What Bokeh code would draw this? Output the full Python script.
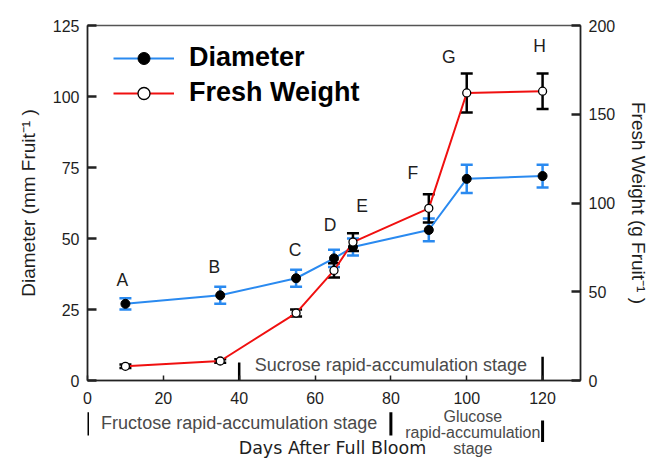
from bokeh.plotting import figure
from bokeh.layouts import column
from bokeh.models import (Range1d, LinearAxis, FixedTicker, Whisker, TeeHead,
                          ColumnDataSource, Label, Legend, LegendItem)
from bokeh.core.properties import value
from bokeh.embed import file_html
from bokeh.resources import INLINE

# ---- data ----
days = [10, 35, 55, 65, 70, 90, 100, 120]
diameter = [27, 30, 36, 43, 47, 53, 71, 72]
diameter_err = [2, 3, 3, 3, 3, 4, 5, 4]
fresh_weight = [8, 11, 38, 62, 78, 97, 162, 163]
fresh_weight_err = [1, 1, 2, 4, 5, 8, 11, 10]
point_labels = ["A", "B", "C", "D", "E", "F", "G", "H"]
x_ticks = [0, 20, 40, 60, 80, 100, 120]
left_ticks = [0, 25, 50, 75, 100, 125]
right_ticks = [0, 50, 100, 150, 200]
sucrose_stage = [40, 120]
fructose_stage = [0, 80]
glucose_stage = [80, 120]

# ---- style ----
FONT = "Liberation Sans"
BLUE = "#2a8af0"
RED = "#f01010"
TXT = "#1e1e1e"
GRAY = "#4a4a4a"
LEFT_MAX, RIGHT_MAX = 125, 200
ratio = LEFT_MAX / RIGHT_MAX
px_per_x = 493 / 130.0
px_per_y = 356 / 125.0
label_dx_px = [-3, -6, -1, -4, 9, -16, -18, -3]
label_gap_px = [18, 20, 20, 25, 27, 21, 16, 28]

W = 662
H1 = 406
p = figure(width=W, height=H1, x_range=Range1d(0, 130), y_range=Range1d(0, LEFT_MAX),
           output_backend="svg", toolbar_location=None,
           min_border_left=87, min_border_right=82, min_border_top=25, min_border_bottom=25,
           y_axis_location=None)
p.extra_y_ranges = {"fw": Range1d(0, RIGHT_MAX)}
p.xgrid.visible = False
p.ygrid.visible = False
p.outline_line_color = "#555555"
p.outline_line_width = 1.5


def style_axis(ax):
    ax.axis_line_color = "#222222"
    ax.axis_line_width = 1.5
    ax.major_tick_line_color = "#222222"
    ax.major_tick_line_width = 2.5
    ax.minor_tick_line_color = None
    ax.major_label_text_font = FONT
    ax.major_label_text_font_size = "16px"
    ax.major_label_text_color = TXT
    ax.axis_label_text_font = FONT
    ax.axis_label_text_font_size = "19px"
    ax.axis_label_text_font_style = "normal"
    ax.axis_label_text_color = TXT


xa = p.xaxis[0]
style_axis(xa)
xa.ticker = FixedTicker(ticks=x_ticks)
xa.major_tick_in = 5
xa.major_tick_out = 0
xa.major_tick_line_width = 1.5
xa.major_label_standoff = 11

ly = LinearAxis(ticker=FixedTicker(ticks=left_ticks), axis_label="Diameter (mm Fruit⁻¹ )")
style_axis(ly)
ly.major_tick_in = 9
ly.major_tick_out = 0
ly.major_label_standoff = 8
ly.axis_label_standoff = 11
p.add_layout(ly, "left")

ry = LinearAxis(y_range_name="fw", ticker=FixedTicker(ticks=right_ticks),
                axis_label="Fresh Weight (g Fruit⁻¹ )")
style_axis(ry)
ry.major_tick_in = 9
ry.major_tick_out = 0
ry.major_label_standoff = 8
ry.axis_label_standoff = 10
p.add_layout(ry, "right")

src = ColumnDataSource(dict(
    x=days, d=diameter,
    d_lo=[v - e for v, e in zip(diameter, diameter_err)],
    d_hi=[v + e for v, e in zip(diameter, diameter_err)],
    w=fresh_weight,
    w_lo=[v - e for v, e in zip(fresh_weight, fresh_weight_err)],
    w_hi=[v + e for v, e in zip(fresh_weight, fresh_weight_err)],
))

# error bars
wd = Whisker(source=src, base="x", upper="d_hi", lower="d_lo", dimension="height",
             line_color=BLUE, line_width=2.5,
             upper_head=TeeHead(size=12, line_color=BLUE, line_width=2.5),
             lower_head=TeeHead(size=12, line_color=BLUE, line_width=2.5))
ww = Whisker(source=src, base="x", upper="w_hi", lower="w_lo", dimension="height",
             y_range_name="fw", line_color="black", line_width=2.5,
             upper_head=TeeHead(size=12, line_color="black", line_width=2.5),
             lower_head=TeeHead(size=12, line_color="black", line_width=2.5))
p.add_layout(wd)
p.add_layout(ww)

l1 = p.line("x", "d", source=src, line_color=BLUE, line_width=2)
l2 = p.line("x", "w", source=src, y_range_name="fw", line_color=RED, line_width=2)
m1 = p.scatter("x", "d", source=src, marker="circle", size=9, fill_color="black", line_color="black")
m2 = p.scatter("x", "w", source=src, y_range_name="fw", marker="circle", size=8,
               fill_color="white", line_color="black", line_width=1.3)

legend = Legend(items=[LegendItem(label="Diameter", renderers=[l1, m1]),
                       LegendItem(label="Fresh Weight", renderers=[l2, m2])],
                location=(26, 272), border_line_color=None, background_fill_alpha=0,
                padding=10, spacing=4, glyph_width=61, glyph_height=30, label_height=30,
                label_standoff=15, label_text_font=FONT, label_text_font_size="27px",
                label_text_font_style="bold", label_text_color="black")
p.add_layout(legend)

# point letters
tops = [max(dh, wh * ratio) for dh, wh in zip(src.data["d_hi"], src.data["w_hi"])]
lab_src = ColumnDataSource(dict(
    x=[x + dx / px_per_x for x, dx in zip(days, label_dx_px)],
    y=[t + g / px_per_y for t, g in zip(tops, label_gap_px)],
    t=point_labels))
p.text("x", "y", text="t", source=lab_src, text_align="center", text_baseline="alphabetic",
       text_font=value(FONT), text_font_size="17.5px", text_color=TXT)

# sucrose stage inside frame
p.segment(x0=sucrose_stage, y0=[0, 0], x1=sucrose_stage, y1=[6.3, 8.4],
          line_color="black", line_width=2.5)
p.add_layout(Label(x=sum(sucrose_stage) / 2, y=5.3, text="Sucrose rapid-accumulation stage",
                   text_align="center", text_baseline="middle", text_font=FONT,
                   text_font_size="18px", text_color=GRAY))

# ---- strip under the x axis (y in pixels from its top) ----
H2 = 458 - H1
q = figure(width=W, height=H2, x_range=p.x_range, y_range=Range1d(H2, 0),
           output_backend="svg", toolbar_location=None,
           min_border_left=87, min_border_right=82, min_border_top=0, min_border_bottom=0,
           x_axis_location=None, y_axis_location=None)
q.outline_line_color = None
q.grid.visible = False

q.segment(x0=fructose_stage, y0=[5.7, 5.7], x1=fructose_stage, y1=[29, 29],
          line_color="black", line_width=3)
q.segment(x0=[glucose_stage[1]], y0=[14], x1=[glucose_stage[1]], y1=[35.6],
          line_color="black", line_width=3)
q.text(x=[sum(fructose_stage) / 2], y=[16], text=["Fructose rapid-accumulation stage"],
       text_align="center", text_baseline="middle", text_font=value(FONT),
       text_font_size="18px", text_color=GRAY)
q.text(x=[sum(glucose_stage) / 2 + 1.6] * 3, y=[10.3, 26.4, 42.3],
       text=["Glucose", "rapid-accumulation", "stage"],
       text_align="center", text_baseline="middle", text_font=value(FONT),
       text_font_size="16px", text_color=GRAY)
q.text(x=[64.6], y=[41], text=["Days After Full Bloom"], text_align="center",
       text_baseline="middle", text_font=value("DejaVu Sans"), text_font_size="17.5px",
       text_color=TXT)

layout = column(p, q, spacing=0)
open("out.html", "w").write(file_html(layout, INLINE))
